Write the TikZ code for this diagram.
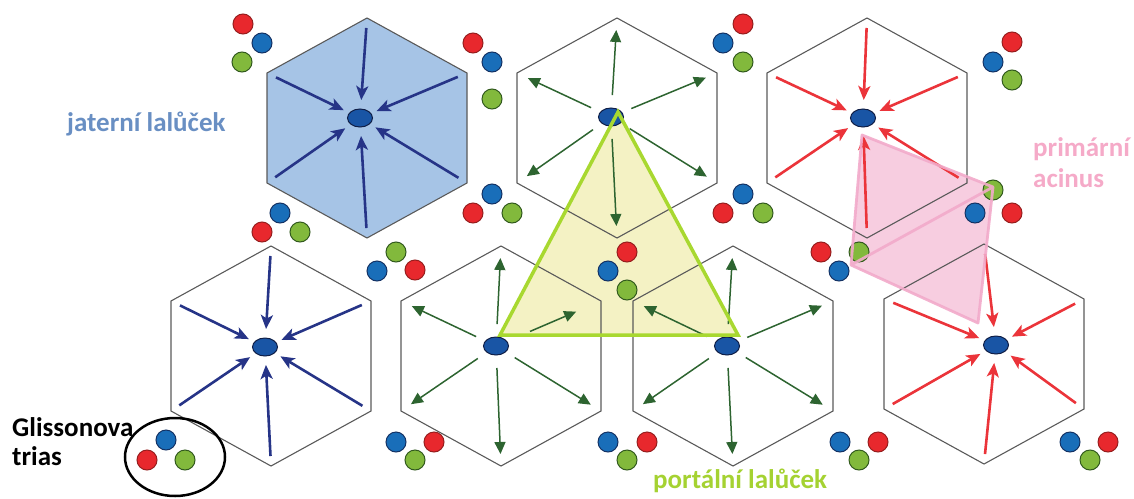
\documentclass[tikz,border=0pt]{standalone}
\usepackage{fontspec}
\setmainfont{Carlito}
\usetikzlibrary{arrows.meta,shapes.geometric}
\definecolor{hexgray}{RGB}{90,90,90}
\definecolor{hexfill}{RGB}{166,196,230}
\definecolor{navyarr}{RGB}{38,52,135}
\definecolor{greenarr}{RGB}{45,100,48}
\definecolor{redarr}{RGB}{235,52,58}
\definecolor{dotfill}{RGB}{25,85,165}
\definecolor{dotline}{RGB}{15,30,70}
\definecolor{trired}{RGB}{232,40,45}
\definecolor{triredl}{RGB}{150,30,30}
\definecolor{triblue}{RGB}{25,110,185}
\definecolor{tribluel}{RGB}{20,50,100}
\definecolor{trigreen}{RGB}{130,185,60}
\definecolor{trigreenl}{RGB}{50,90,30}
\definecolor{yelfill}{RGB}{244,242,196}
\definecolor{yelline}{RGB}{168,216,48}
\definecolor{pinkfill}{RGB}{247,205,224}
\definecolor{pinkline}{RGB}{242,170,202}
\definecolor{labblue}{RGB}{105,143,195}
\definecolor{labpink}{RGB}{245,170,200}
\definecolor{labgreen}{RGB}{165,210,50}
\newcommand\mkhex[5]{%
  \coordinate (#1-1) at (#2,#3-110);
  \coordinate (#1-2) at (#2+100,#3-55);
  \coordinate (#1-3) at (#2+100,#3+55);
  \coordinate (#1-4) at (#2,#3+110);
  \coordinate (#1-5) at (#2-100,#3+55);
  \coordinate (#1-6) at (#2-100,#3-55);
  \coordinate (#1-d) at (#4,#5);
}
\newcommand\hexoutline[1]{(#1-1) -- (#1-2) -- (#1-3) -- (#1-4) -- (#1-5) -- (#1-6) -- cycle}
\newcommand\mktriad[4]{%
  \node[trinode,fill=trired,draw=triredl] (#1r) at (#2) {};
  \node[trinode,fill=triblue,draw=tribluel] (#1b) at (#3) {};
  \node[trinode,fill=trigreen,draw=trigreenl] (#1g) at (#4) {};
}
\begin{document}
\begin{tikzpicture}[x=1pt,y=-1pt,
  hexline/.style={draw=hexgray,line width=1.1pt,line join=miter},
  bluearrow/.style={draw=navyarr,line width=2.6pt,shorten <=10pt,shorten >=18pt,-{Stealth[length=14pt,width=12pt,inset=3.5pt]}},
  redarrow/.style={draw=redarr,line width=2.6pt,shorten <=10pt,shorten >=18pt,-{Stealth[length=14pt,width=12pt,inset=3.5pt]}},
  greenarrow/.style={draw=greenarr,line width=1.5pt,shorten <=22pt,shorten >=12pt,-{Triangle[length=12pt,width=11pt]}},
  dotnode/.style={ellipse,fill=dotfill,draw=dotline,line width=1pt,minimum width=25pt,minimum height=18pt,inner sep=0pt},
  trinode/.style={circle,line width=1pt,minimum size=20pt,inner sep=0pt},
  lab/.style={anchor=base west,inner sep=0pt,font=\fontsize{27}{31}\selectfont\bfseries}
]
\useasboundingbox (0,0) rectangle (1134,498);
% hexagon geometry
\mkhex{h1}{367}{128}{360}{118}
\mkhex{h2}{617}{128}{611}{117}
\mkhex{h3}{867}{128}{863}{118}
\mkhex{h4}{271}{356}{265}{347}
\mkhex{h5}{501}{356}{496}{346}
\mkhex{h6}{733}{356}{727}{346}
\mkhex{h7}{984}{354}{996}{345}
% region coordinates
\coordinate (ya) at (618,112);
\coordinate (yb) at (500,335);
\coordinate (yc) at (738,335);
\coordinate (pa) at (862,135);
\coordinate (pb) at (993,187);
\coordinate (pc) at (978,323);
\coordinate (pd) at (851,265);
% fills beneath
\fill[yelfill] (ya) -- (yb) -- (yc) -- cycle;
\fill[pinkfill] (pa) -- (pb) -- (pc) -- (pd) -- cycle;
\fill[hexfill] \hexoutline{h1};
% hexagon outlines
\foreach \h in {h1,h2,h3,h4,h5,h6,h7} \draw[hexline] \hexoutline{\h};
% arrows
\foreach \i in {1,...,6} {
  \draw[bluearrow] (h1-\i) -- (h1-d);
  \draw[bluearrow] (h4-\i) -- (h4-d);
  \draw[redarrow] (h3-\i) -- (h3-d);
  \draw[redarrow] (h7-\i) -- (h7-d);
  \draw[greenarrow] (h2-d) -- (h2-\i);
  \draw[greenarrow] (h6-d) -- (h6-\i);
}
\foreach \i in {1,3,4,5,6} \draw[greenarrow] (h5-d) -- (h5-\i);
\draw[greenarrow,shorten <=37pt,shorten >=27pt] (h5-d) -- (h5-2);
% central veins
\foreach \h in {h1,h2,h3,h4,h5,h6,h7} \node[dotnode] (\h-dot) at (\h-d) {};
% Glisson triads
\mktriad{ta}{243,24}{262,43}{242,62}
\mktriad{tb}{473,43}{492,62}{492,99}
\mktriad{tc}{743,24}{723,43}{743,62}
\mktriad{td}{1012,42}{993,62}{1012,80}
\mktriad{te}{262,232}{280,213}{300,232}
\mktriad{tf}{473,213}{492,194}{512,213}
\mktriad{tg}{723,213}{743,194}{763,213}
\mktriad{th}{1012,213}{975,213}{993,190}
\mktriad{ti}{415,270}{377,271}{396,252}
\mktriad{tj}{627,252}{608,271}{627,290}
\mktriad{tk}{821,252}{839,271}{859,252}
\mktriad{tl}{147,460}{166,440}{185,460}
\mktriad{tm}{434,442}{396,442}{415,460}
\mktriad{tn}{647,442}{608,442}{627,460}
\mktriad{to}{878,442}{840,442}{859,460}
\mktriad{tp}{1108,442}{1070,442}{1090,460}
% region outlines
\draw[pinkline,line width=2.8pt,line join=round,opacity=0.9] (pa) -- (pb) -- (pc) -- (pd) -- cycle (pd) -- (pb);
\draw[yelline,line width=3.5pt,line join=miter] (ya) -- (yb) -- (yc) -- cycle;
% legend ring
\node[ellipse,draw=black,line width=2.5pt,minimum width=100pt,minimum height=78pt,inner sep=0pt] (ring) at (175,457) {};
% labels
\node[lab,text=labblue] (ljat) at (67,131) {jaterní lalůček};
\node[lab,text=labpink] (lpri) at (1033,156) {primární};
\node[lab,text=labpink] (laci) at (1033,187) {acinus};
\node[lab,text=black] (lgli) at (12,436) {Glissonova};
\node[lab,text=black] (ltri) at (12,465) {trias};
\node[lab,text=labgreen] (lpor) at (653,488) {portální lalůček};
\end{tikzpicture}
\end{document}
